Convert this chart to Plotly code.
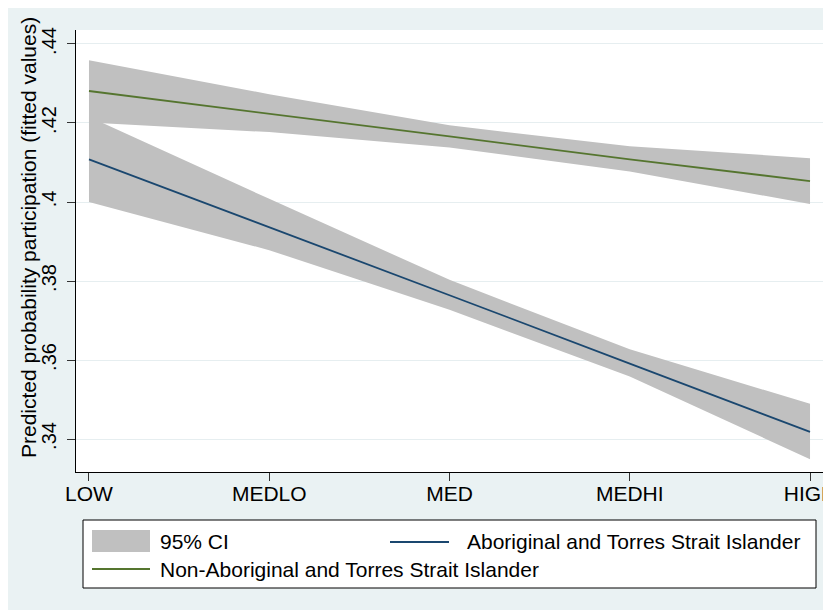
import plotly.graph_objects as go

# ---- data ----
categories = ["LOW", "MEDLO", "MED", "MEDHI", "HIGH"]
abor_fit = [0.4108, 0.3937, 0.3764, 0.3591, 0.3418]
abor_lo = [0.4000, 0.3878, 0.3727, 0.3558, 0.3349]
abor_hi = [0.4216, 0.4008, 0.3803, 0.3627, 0.3489]
non_fit = [0.4281, 0.4224, 0.4166, 0.4108, 0.4053]
non_lo = [0.4201, 0.4177, 0.4138, 0.4077, 0.3995]
non_hi = [0.4359, 0.4273, 0.4194, 0.4141, 0.4111]
ytick_vals = [0.34, 0.36, 0.38, 0.40, 0.42, 0.44]
ytick_text = [".34", ".36", ".38", ".4", ".42", ".44"]
y_title = "Predicted probability participation (fitted values)"
legend_labels = ["95% CI", "Aboriginal and Torres Strait Islander",
                 "Non-Aboriginal and Torres Strait Islander"]

# ---- style ----
OFF = 8  # page body margin
W, H = 823, 602
ML, MR, MT, MB = 68, 8, 22, 138
PW, PH = W - ML - MR, H - MT - MB
BG = "#eaf2f3"
GRAY = "#c0c0c0"
BLUE = "#1a476f"
GREEN = "#55752f"
FONT = "Liberation Sans, Arial, Helvetica, sans-serif"


def xp(px):  # page pixel -> paper
    return (px - OFF - ML) / PW


def yp(py):
    return (H - MB - (py - OFF)) / PH


fig = go.Figure()

for lo, hi in [(non_lo, non_hi), (abor_lo, abor_hi)]:
    fig.add_trace(go.Scatter(
        x=categories + categories[::-1], y=hi + lo[::-1],
        fill="toself", fillcolor=GRAY, line=dict(width=0),
        mode="lines", hoverinfo="skip", showlegend=False))

fig.add_trace(go.Scatter(x=categories, y=non_fit, mode="lines",
                         line=dict(color=GREEN, width=1.8), showlegend=False))
fig.add_trace(go.Scatter(x=categories, y=abor_fit, mode="lines",
                         line=dict(color=BLUE, width=1.8), showlegend=False))

shapes = [
    dict(type="rect", xref="paper", yref="paper", x0=xp(83), x1=xp(816), y0=yp(520), y1=yp(588),
         fillcolor="white", line=dict(color="black", width=1), layer="above"),
    dict(type="rect", xref="paper", yref="paper", x0=xp(92), x1=xp(150), y0=yp(530), y1=yp(552),
         fillcolor=GRAY, line=dict(width=0), layer="above"),
    dict(type="line", xref="paper", yref="paper", x0=xp(390), x1=xp(449), y0=yp(542), y1=yp(542),
         line=dict(color=BLUE, width=1.8), layer="above"),
    dict(type="line", xref="paper", yref="paper", x0=xp(92), x1=xp(150), y0=yp(569), y1=yp(569),
         line=dict(color=GREEN, width=1.8), layer="above"),
]

annotations = [
    dict(text=legend_labels[0], x=xp(158), y=yp(541)),
    dict(text=legend_labels[1], x=xp(465), y=yp(541)),
    dict(text=legend_labels[2], x=xp(158), y=yp(569)),
]
annotations = [dict(a, xref="paper", yref="paper", xanchor="left", yanchor="middle",
                    showarrow=False, font=dict(size=21, color="black", family=FONT))
               for a in annotations]
annotations.append(dict(text=y_title, x=xp(28), y=yp(238), xref="paper", yref="paper",
                        xanchor="center", yanchor="middle", textangle=-90, showarrow=False,
                        font=dict(size=21, color="black", family=FONT)))

fig.update_layout(
    width=W, height=H,
    margin=dict(l=ML, r=MR, t=MT, b=MB, pad=0, autoexpand=False),
    paper_bgcolor=BG, plot_bgcolor="white",
    font=dict(family=FONT, size=21, color="black"),
    shapes=shapes, annotations=annotations,
    showlegend=False,
)

fig.update_xaxes(
    type="category", range=[-0.072, 4.072], automargin=False,
    showgrid=False, zeroline=False,
    showline=True, linecolor="black", linewidth=1,
    ticks="outside", ticklen=8, tickcolor="#333", tickwidth=1,
    tickfont=dict(size=21), ticklabelstandoff=-5,
)
fig.update_yaxes(
    range=[0.33165, 0.44354], automargin=False,
    tickvals=ytick_vals, ticktext=ytick_text, tickangle=-90,
    showgrid=True, gridcolor="#e6eef0", gridwidth=1,
    zeroline=False,
    showline=True, linecolor="black", linewidth=1,
    ticks="outside", ticklen=8, tickcolor="#333", tickwidth=1,
    tickfont=dict(size=20), ticklabelstandoff=3,
)

fig.write_html("out.html",
               post_script="document.documentElement.style.overflow='hidden';"
                           "document.body.style.overflow='hidden';")
